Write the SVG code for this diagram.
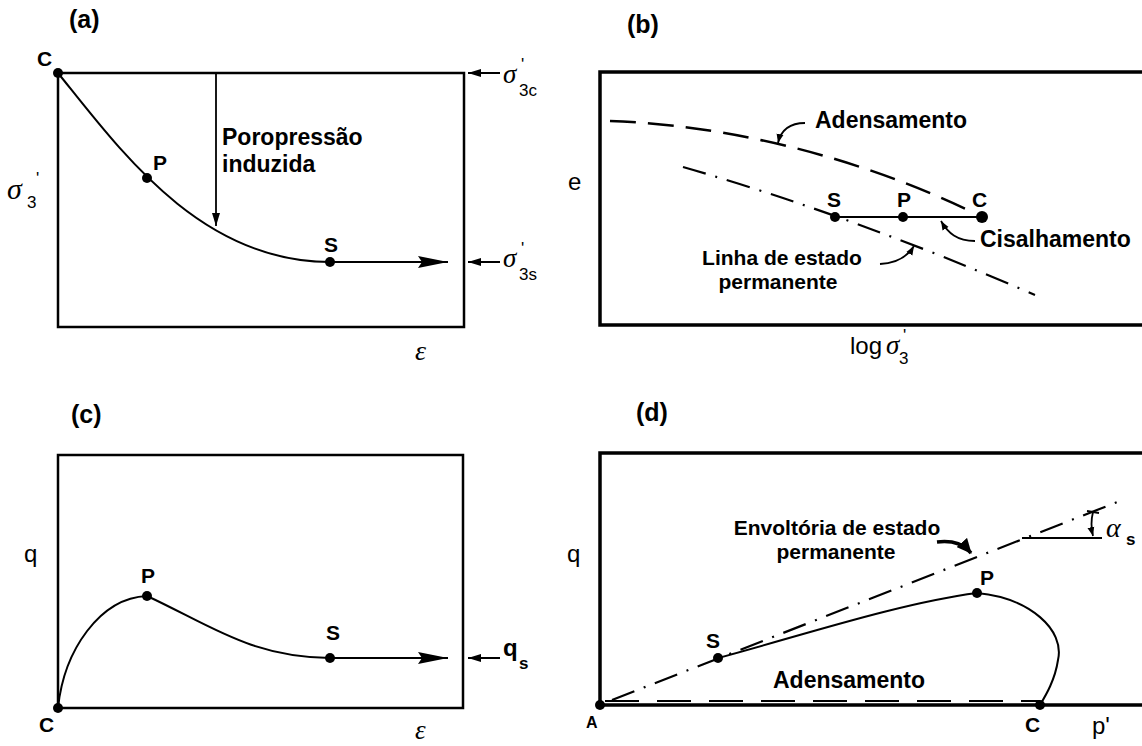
<svg xmlns="http://www.w3.org/2000/svg" width="1142" height="746" viewBox="0 0 1142 746">
<style>
.frame{fill:none;stroke:#000;stroke-width:2.5}
.thick{fill:none;stroke:#000;stroke-width:3.5}
.curve{fill:none;stroke:#000;stroke-width:2}
.dash{fill:none;stroke:#000;stroke-width:2.5;stroke-dasharray:26 12}
.dashdot{fill:none;stroke:#000;stroke-width:2.2;stroke-dasharray:24 10 2 10}
.lead{fill:none;stroke:#000;stroke-width:1.8}
.dot{fill:#000}
.lbl{font-family:"Liberation Sans",Arial,sans-serif;font-weight:bold;font-size:23px;fill:#000}
.lbl2{font-family:"Liberation Sans",Arial,sans-serif;font-weight:bold;font-size:21px;fill:#000}
.pt{font-family:"Liberation Sans",Arial,sans-serif;font-weight:bold;font-size:21px;fill:#000}
.ttl{font-family:"Liberation Sans",Arial,sans-serif;font-weight:bold;font-size:25px;fill:#000}
.ax{font-family:"Liberation Sans",Arial,sans-serif;font-size:24px;fill:#000}
.gr{font-family:"Liberation Serif","Times New Roman",serif;font-style:italic;font-size:30px;fill:#000}
.sub{font-family:"Liberation Sans",Arial,sans-serif;font-size:17px;fill:#000}
</style>
<defs>
<marker id="big" markerUnits="userSpaceOnUse" markerWidth="32" markerHeight="14" refX="30" refY="7" orient="auto"><path d="M0,1 L30,7 L0,13 L4,7 z" fill="#000"/></marker>
<marker id="small" markerUnits="userSpaceOnUse" markerWidth="14" markerHeight="10" refX="13" refY="5" orient="auto"><path d="M0,1 L13,5 L0,9 z" fill="#000"/></marker>
<marker id="tiny" markerUnits="userSpaceOnUse" markerWidth="10" markerHeight="8" refX="9" refY="4" orient="auto"><path d="M0,0.5 L9,4 L0,7.5 z" fill="#000"/></marker>
<marker id="fat" markerUnits="userSpaceOnUse" markerWidth="16" markerHeight="14" refX="14" refY="7" orient="auto"><path d="M0,0 L15,7 L0,14 z" fill="#000"/></marker>
</defs>

<g id="panel-a">
  <text class="ttl" x="69" y="28">(a)</text>
  <rect class="frame" x="58" y="73" width="406" height="254"/>
  <g id="a-connectors">
    <path class="curve" d="M58,73 C120,150 200,262 330,262"/>
    <line class="curve" x1="330" y1="262" x2="448" y2="262" marker-end="url(#big)"/>
    <line class="lead" x1="216" y1="73" x2="216" y2="226" marker-end="url(#small)"/>
    <line class="curve" x1="500" y1="73" x2="468" y2="73" marker-end="url(#small)"/>
    <line class="curve" x1="500" y1="262" x2="468" y2="262" marker-end="url(#small)"/>
  </g>
  <g id="a-C"><circle class="dot" cx="58" cy="73" r="5"/><text class="pt" x="37" y="66">C</text></g>
  <g id="a-P"><circle class="dot" cx="147" cy="178" r="5"/><text class="pt" x="153" y="170">P</text></g>
  <g id="a-S"><circle class="dot" cx="330" cy="262" r="5"/><text class="pt" x="324" y="252">S</text></g>
  <g id="a-poro"><text class="lbl" x="222" y="145">Poropressão</text><text class="lbl" x="222" y="172">induzida</text></g>
  <g id="a-yaxis"><text class="gr" x="7" y="199">σ</text><text class="sub" x="36" y="184">'</text><text class="sub" x="27" y="208">3</text></g>
  <g id="a-s3c"><text class="gr" x="503" y="83" style="font-size:27px">σ</text><text class="sub" x="521" y="70">'</text><text class="sub" x="519" y="96">3c</text></g>
  <g id="a-s3s"><text class="gr" x="503" y="267" style="font-size:27px">σ</text><text class="sub" x="521" y="254">'</text><text class="sub" x="519" y="280">3s</text></g>
  <text class="gr" x="415" y="360" style="font-size:28px">ε</text>
</g>

<g id="panel-b">
  <text class="ttl" x="627" y="33">(b)</text>
  <path class="thick" d="M1142,72 L600,72 L600,325 L1142,325"/>
  <text class="ax" x="568" y="190">e</text>
  <g id="b-connectors">
    <path class="dash" d="M610,121 C700,124 830,145 968,210"/>
    <path class="dashdot" d="M683,167 Q850,215 1035,295"/>
    <line class="curve" x1="835" y1="217" x2="982" y2="217"/>
    <path class="lead" d="M805,123 C790,123 781,130 778,143" marker-end="url(#tiny)"/>
    <path class="lead" d="M975,241 C957,241 948,233 941,221" marker-end="url(#tiny)"/>
    <path class="lead" d="M880,264 C898,263 908,256 914,246" marker-end="url(#tiny)"/>
  </g>
  <g id="b-S"><circle class="dot" cx="835" cy="217" r="5"/><text class="pt" x="827" y="207">S</text></g>
  <g id="b-P"><circle class="dot" cx="903" cy="217" r="5"/><text class="pt" x="897" y="207">P</text></g>
  <g id="b-C"><circle class="dot" cx="982" cy="217" r="6"/><text class="pt" x="972" y="207">C</text></g>
  <text class="lbl" x="815" y="128">Adensamento</text>
  <text class="lbl" x="980" y="247">Cisalhamento</text>
  <g id="b-linha"><text class="lbl2" x="782" y="265" text-anchor="middle">Linha de estado</text><text class="lbl2" x="778" y="289" text-anchor="middle">permanente</text></g>
  <g id="b-xaxis"><text class="ax" x="850" y="354">log</text><text class="gr" x="886" y="354" style="font-size:27px">σ</text><text class="sub" x="903" y="341">'</text><text class="sub" x="899" y="364">3</text></g>
</g>

<g id="panel-c">
  <text class="ttl" x="71" y="423">(c)</text>
  <rect class="frame" x="58" y="455" width="405" height="253"/>
  <g id="c-connectors">
    <path class="curve" d="M58,708 C64,650 100,598 147,596"/>
    <path class="curve" d="M147,596 C210,625 250,657 330,658"/>
    <line class="curve" x1="330" y1="658" x2="448" y2="658" marker-end="url(#big)"/>
    <line class="curve" x1="500" y1="658" x2="468" y2="658" marker-end="url(#small)"/>
  </g>
  <g id="c-C"><circle class="dot" cx="58" cy="708" r="5"/><text class="pt" x="39" y="732">C</text></g>
  <g id="c-P"><circle class="dot" cx="147" cy="596" r="5"/><text class="pt" x="141" y="583">P</text></g>
  <g id="c-S"><circle class="dot" cx="330" cy="658" r="5"/><text class="pt" x="326" y="640">S</text></g>
  <text class="ax" x="24" y="562">q</text>
  <g id="c-qs"><text class="ax" x="503" y="656" style="font-weight:bold">q</text><text class="sub" x="519" y="669" style="font-weight:bold">s</text></g>
  <text class="gr" x="415" y="739" style="font-size:27px">ε</text>
</g>

<g id="panel-d">
  <text class="ttl" x="636" y="421">(d)</text>
  <path class="thick" d="M1142,453 L600,453 L600,705 L1142,705"/>
  <text class="ax" x="567" y="562">q</text>
  <g id="d-connectors">
    <path class="dashdot" d="M612,700 L1125,499"/>
    <path class="dash" d="M605,701 L1040,701" style="stroke-dasharray:34 18;stroke-width:2"/>
    <path class="curve" d="M718,658 C800,636 900,603 977,593"/>
    <path class="curve" d="M977,593 C1030,598 1065,630 1058,660 C1055,680 1046,695 1040,705"/>
    <path style="fill:none;stroke:#000;stroke-width:3.5" d="M937,542 C955,540 964,545 971,553" marker-end="url(#fat)"/>
    <line class="curve" x1="1022" y1="538" x2="1102" y2="538"/>
    <path class="lead" d="M1087,511 L1099,513 M1093,512 Q1090,524 1093,536" marker-end="url(#tiny)"/>
  </g>
  <g id="d-A"><circle class="dot" cx="600" cy="705" r="5"/><text class="pt" x="586" y="728" style="font-size:16px">A</text></g>
  <g id="d-S"><circle class="dot" cx="718" cy="658" r="5"/><text class="pt" x="706" y="648">S</text></g>
  <g id="d-P"><circle class="dot" cx="977" cy="593" r="5"/><text class="pt" x="980" y="585">P</text></g>
  <g id="d-C"><circle class="dot" cx="1040" cy="705" r="5"/><text class="pt" x="1025" y="732">C</text></g>
  <g id="d-env"><text class="lbl2" x="837" y="535" text-anchor="middle">Envoltória de estado</text><text class="lbl2" x="836" y="559" text-anchor="middle">permanente</text></g>
  <text class="lbl" x="773" y="688">Adensamento</text>
  <g id="d-alpha"><text class="gr" x="1106" y="537" style="font-size:28px">α</text><text class="sub" x="1126" y="545" style="font-weight:bold">s</text></g>
  <text class="ax" x="1092" y="734">p'</text>
</g>
</svg>
